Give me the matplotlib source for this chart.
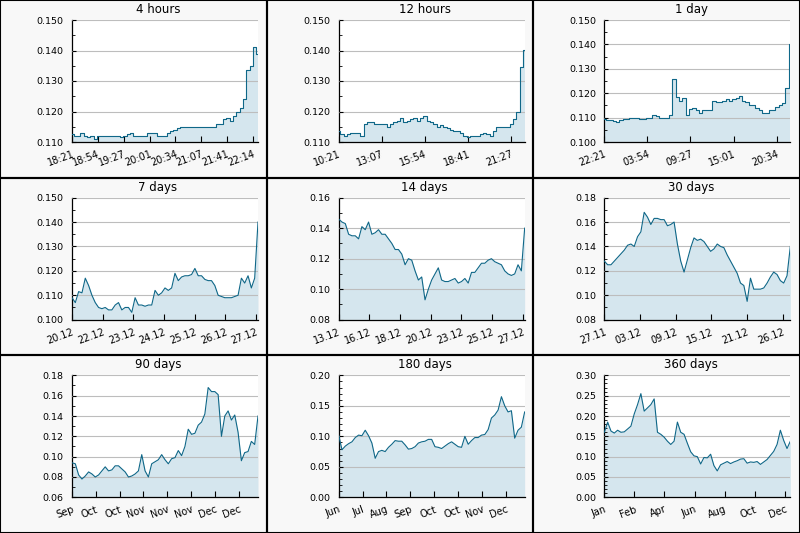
import numpy as np
import matplotlib
matplotlib.use("Agg")
import matplotlib.pyplot as plt
from matplotlib.patches import Rectangle
from matplotlib.ticker import AutoMinorLocator, FormatStrFormatter

# values, one list per panel
titles = ["4 hours", "12 hours", "1 day",
          "7 days", "14 days", "30 days",
          "90 days", "180 days", "360 days"]

h4 = [0.1125, 0.112, 0.112, 0.113, 0.112, 0.1115, 0.112, 0.111, 0.112, 0.112,
      0.112, 0.112, 0.112, 0.112, 0.112, 0.1115, 0.112, 0.1125, 0.113, 0.112,
      0.112, 0.112, 0.112, 0.113, 0.113, 0.113, 0.112, 0.112, 0.112, 0.113,
      0.1135, 0.114, 0.1145, 0.115, 0.115, 0.115, 0.115, 0.115, 0.115, 0.115,
      0.115, 0.115, 0.115, 0.115, 0.116, 0.116, 0.1175, 0.118, 0.117, 0.1185,
      0.120, 0.121, 0.124, 0.1335, 0.135, 0.141, 0.139]

h12 = [0.1135, 0.1125, 0.112, 0.1125, 0.113, 0.113, 0.113, 0.112, 0.116, 0.1165,
       0.1165, 0.116, 0.116, 0.116, 0.116, 0.115, 0.116, 0.1165, 0.117, 0.118,
       0.1165, 0.117, 0.1175, 0.118, 0.117, 0.118, 0.1185, 0.117, 0.1165, 0.116,
       0.115, 0.1155, 0.115, 0.1145, 0.114, 0.1135, 0.1135, 0.113, 0.112, 0.1115,
       0.112, 0.112, 0.112, 0.1125, 0.113, 0.1125, 0.112, 0.1135, 0.115, 0.115,
       0.115, 0.115, 0.116, 0.1175, 0.120, 0.1345, 0.140]

d1 = [0.1095, 0.109, 0.109, 0.1085, 0.108, 0.109, 0.1095, 0.1095, 0.110, 0.110,
      0.110, 0.1095, 0.1095, 0.110, 0.110, 0.111, 0.1105, 0.110, 0.110, 0.110,
      0.111, 0.126, 0.1185, 0.117, 0.118, 0.111, 0.1135, 0.114, 0.113, 0.112,
      0.113, 0.113, 0.113, 0.117, 0.1165, 0.1165, 0.117, 0.1175, 0.117, 0.1175,
      0.118, 0.119, 0.117, 0.1165, 0.115, 0.115, 0.114, 0.113, 0.112, 0.112,
      0.113, 0.113, 0.1145, 0.115, 0.116, 0.122, 0.140]

d7 = [0.109, 0.107, 0.1115, 0.111, 0.117, 0.114, 0.110, 0.107, 0.105, 0.1045,
      0.105, 0.104, 0.104, 0.106, 0.107, 0.104, 0.105, 0.105, 0.103, 0.109,
      0.106, 0.106, 0.1055, 0.106, 0.106, 0.112, 0.110, 0.111, 0.113, 0.112,
      0.113, 0.119, 0.116, 0.1175, 0.118, 0.118, 0.1185, 0.121, 0.118, 0.118,
      0.1165, 0.116, 0.116, 0.114, 0.110, 0.1095, 0.109, 0.109, 0.109, 0.1095,
      0.110, 0.117, 0.115, 0.118, 0.113, 0.117, 0.140]

d14 = [0.146, 0.144, 0.143, 0.136, 0.135, 0.135, 0.133, 0.141, 0.139, 0.144,
       0.136, 0.137, 0.139, 0.136, 0.136, 0.133, 0.130, 0.126, 0.126, 0.123,
       0.116, 0.120, 0.119, 0.112, 0.106, 0.108, 0.093, 0.100, 0.106, 0.110,
       0.114, 0.106, 0.105, 0.105, 0.106, 0.107, 0.104, 0.105, 0.107, 0.104,
       0.111, 0.111, 0.114, 0.117, 0.117, 0.119, 0.120, 0.118, 0.117, 0.116,
       0.112, 0.110, 0.109, 0.110, 0.116, 0.112, 0.140]

d30 = [0.128, 0.125, 0.125, 0.128, 0.131, 0.134, 0.137, 0.141, 0.142, 0.140,
       0.148, 0.152, 0.168, 0.164, 0.158, 0.163, 0.163, 0.162, 0.162, 0.157,
       0.158, 0.160, 0.142, 0.128, 0.119, 0.129, 0.139, 0.147, 0.145, 0.146,
       0.144, 0.140, 0.136, 0.138, 0.142, 0.140, 0.139, 0.133, 0.128, 0.123,
       0.118, 0.110, 0.108, 0.095, 0.114, 0.105, 0.105, 0.105, 0.106, 0.110,
       0.115, 0.119, 0.117, 0.112, 0.110, 0.116, 0.140]

d90 = [0.094, 0.093, 0.082, 0.078, 0.081, 0.085, 0.083, 0.080, 0.082, 0.086,
       0.090, 0.086, 0.087, 0.091, 0.091, 0.088, 0.085, 0.080, 0.081, 0.083,
       0.086, 0.102, 0.086, 0.080, 0.093, 0.095, 0.097, 0.102, 0.097, 0.093,
       0.098, 0.099, 0.106, 0.101, 0.110, 0.127, 0.122, 0.123, 0.131, 0.134,
       0.142, 0.168, 0.164, 0.164, 0.161, 0.120, 0.140, 0.145, 0.136, 0.141,
       0.124, 0.096, 0.104, 0.105, 0.115, 0.112, 0.140]

d180 = [0.102, 0.078, 0.084, 0.088, 0.091, 0.098, 0.102, 0.101, 0.110, 0.101,
        0.089, 0.064, 0.075, 0.077, 0.075, 0.082, 0.087, 0.093, 0.092, 0.092,
        0.086, 0.079, 0.080, 0.083, 0.089, 0.091, 0.092, 0.095, 0.095, 0.083,
        0.082, 0.080, 0.084, 0.088, 0.091, 0.087, 0.083, 0.082, 0.100, 0.087,
        0.093, 0.098, 0.098, 0.102, 0.103, 0.111, 0.130, 0.135, 0.143, 0.165,
        0.150, 0.140, 0.142, 0.097, 0.110, 0.115, 0.140]

d360 = [0.160, 0.185, 0.163, 0.158, 0.165, 0.160, 0.161, 0.168, 0.175, 0.205,
        0.228, 0.255, 0.212, 0.220, 0.228, 0.242, 0.160, 0.155, 0.148, 0.138,
        0.130, 0.138, 0.185, 0.160, 0.155, 0.133, 0.112, 0.102, 0.100, 0.082,
        0.098, 0.097, 0.106, 0.078, 0.065, 0.080, 0.084, 0.088, 0.083, 0.087,
        0.090, 0.094, 0.095, 0.084, 0.087, 0.086, 0.088, 0.081, 0.087, 0.093,
        0.103, 0.113, 0.130, 0.165, 0.140, 0.120, 0.138]

series = [h4, h12, d1, d7, d14, d30, d90, d180, d360]

xlabels = [
    ["18:21", "18:54", "19:27", "20:01", "20:34", "21:07", "21:41", "22:14"],
    ["10:21", "13:07", "15:54", "18:41", "21:27"],
    ["22:21", "03:54", "09:27", "15:01", "20:34"],
    ["20.12", "22.12", "23.12", "24.12", "25.12", "26.12", "27.12"],
    ["13.12", "16.12", "18.12", "20.12", "23.12", "25.12", "27.12"],
    ["27.11", "03.12", "09.12", "15.12", "21.12", "26.12"],
    ["Sep", "Oct", "Oct", "Nov", "Nov", "Nov", "Dec", "Dec"],
    ["Jun", "Jul", "Aug", "Sep", "Oct", "Oct", "Nov", "Dec"],
    ["Jan", "Feb", "Apr", "Jun", "Aug", "Oct", "Dec"],
]
# spacing of x ticks as a share of the plotted span
tick_step = [0.1389, 0.2315, 0.2315, 0.165, 0.165, 0.1918, 0.1281, 0.1285, 0.1616]

ylims = [(0.110, 0.150), (0.110, 0.150), (0.100, 0.150),
         (0.100, 0.150), (0.08, 0.16), (0.08, 0.18),
         (0.06, 0.18), (0.00, 0.20), (0.00, 0.30)]
ysteps = [0.01, 0.01, 0.01, 0.01, 0.02, 0.02, 0.02, 0.05, 0.05]
yfmt = ["%.3f"] * 4 + ["%.2f"] * 5
yminor = [2, 2, 2, 2, 2, 2, 2, 5, 5]
stepped = [True, True, True, False, False, False, False, False, False]

line_c = "#0f6788"
fill_c = "#d5e6ee"
cell_bg = "#f8f8f8"

W, H = 800, 533
fig = plt.figure(figsize=(8, 5.33), dpi=100, facecolor=cell_bg)
cw, ch = W / 3, H / 3

for i in range(9):
    r, c = divmod(i, 3)
    cx, cy = c * cw, r * ch
    # cell frame, drawn on top of everything
    fig.patches.append(Rectangle((cx / W, 1 - (cy + ch) / H), cw / W, ch / H,
                                 transform=fig.transFigure, facecolor="none",
                                 edgecolor="black", linewidth=1.5, zorder=10))
    left = 71 if c == 2 else 72
    ax = fig.add_axes([(cx + left) / W, 1 - (cy + 142) / H, 186 / W, 122 / H])
    ax.set_facecolor("white")

    vals = series[i]
    x = np.arange(len(vals))
    lo, hi = ylims[i]
    if stepped[i]:
        ax.fill_between(x, vals, lo, step="mid", color=fill_c, linewidth=0, zorder=1)
        ax.plot(x, vals, color=line_c, lw=0.8, drawstyle="steps-mid", zorder=3)
    else:
        ax.fill_between(x, vals, lo, color=fill_c, linewidth=0, zorder=1)
        ax.plot(x, vals, color=line_c, lw=0.8, zorder=3)
    ax.set_xlim(0, len(vals) - 1)
    ax.set_ylim(lo, hi)

    yt = np.arange(lo, hi + ysteps[i] / 2, ysteps[i])
    ax.set_yticks(yt)
    ax.yaxis.set_major_formatter(FormatStrFormatter(yfmt[i]))
    ax.yaxis.set_minor_locator(AutoMinorLocator(yminor[i]))
    ax.grid(axis="y", color="#bdbdbd", lw=0.8, zorder=2)
    ax.set_axisbelow(False)

    labs = xlabels[i]
    xt = [k * tick_step[i] * (len(vals) - 1) for k in range(len(labs))]
    ax.set_xticks(xt)
    ax.set_xticklabels(labs, rotation=20, ha="right", rotation_mode="anchor")

    for s in ["top", "right"]:
        ax.spines[s].set_visible(False)
    ax.spines["left"].set_linewidth(0.9)
    ax.spines["bottom"].set_linewidth(0.9)
    ax.tick_params(axis="y", which="major", direction="in", length=3, width=0.8,
                   labelsize=6.8, pad=6)
    ax.tick_params(axis="y", which="minor", direction="in", length=2, width=0.6)
    ax.tick_params(axis="x", direction="in", length=4, width=0.8,
                   labelsize=7, pad=5)

    fig.text((cx + 158) / W, 1 - (cy + 9.5) / H, titles[i], ha="center",
             va="center", fontsize=8.5)

fig.savefig("out.png", dpi=100, facecolor=cell_bg)
